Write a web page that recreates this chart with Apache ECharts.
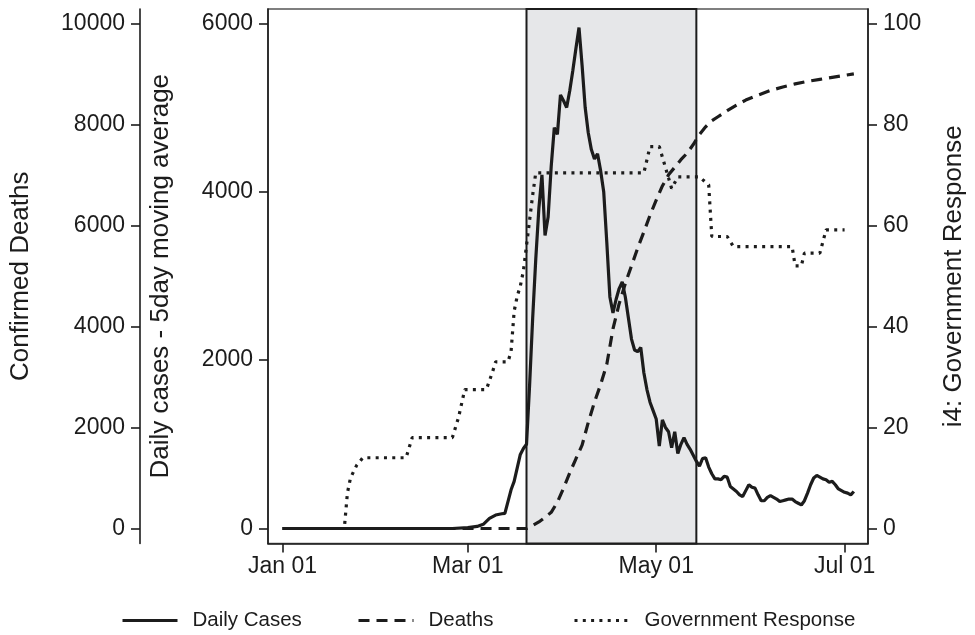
<!DOCTYPE html>
<html>
<head>
<meta charset="utf-8">
<title>Daily cases, deaths and government response</title>
<script src="https://cdn.jsdelivr.net/npm/echarts@6/dist/echarts.min.js"></script>
<style>
  html, body { margin: 0; padding: 0; background: #fff; }
  #chart { width: 975px; height: 635px; }
</style>
</head>
<body>
<div id="chart"></div>
<script>
// dates are 2020, written as MM-DD
const caseDates = ['01-01', '02-25', '03-01', '03-04', '03-06', '03-08', '03-10', '03-12', '03-13', '03-15', '03-16', '03-18', '03-19',
  '03-20', '03-21', '03-22', '03-23', '03-24', '03-25', '03-26', '03-27', '03-28', '03-29', '03-30', '03-31',
  '04-01', '04-02', '04-03', '04-04', '04-05', '04-06', '04-07', '04-08', '04-09', '04-10', '04-11', '04-12', '04-13', '04-14', '04-15',
  '04-16', '04-17', '04-18', '04-19', '04-20', '04-21', '04-22', '04-23', '04-24', '04-25', '04-26', '04-27', '04-28', '04-29', '04-30',
  '05-01', '05-02', '05-03', '05-04', '05-05', '05-06', '05-07', '05-08', '05-09', '05-10', '05-11', '05-12', '05-13', '05-14', '05-15',
  '05-16', '05-17', '05-18', '05-19', '05-20', '05-21', '05-22', '05-23', '05-24', '05-25', '05-26', '05-27', '05-28', '05-29', '05-30', '05-31',
  '06-01', '06-02', '06-03', '06-04', '06-05', '06-06', '06-07', '06-08', '06-09', '06-10', '06-11', '06-12', '06-13', '06-14', '06-15',
  '06-16', '06-17', '06-18', '06-19', '06-20', '06-21', '06-22', '06-23', '06-24', '06-25', '06-26', '06-27', '06-28', '06-29', '06-30',
  '07-01', '07-02', '07-03', '07-04'];
const caseValues = [0, 0, 10, 25, 50, 120, 160, 175, 180, 460, 560, 880, 950,
  1000, 1700, 2500, 3200, 3800, 4200, 3480, 3700, 4300, 4760, 4680, 5150,
  5080, 5000, 5200, 5440, 5700, 5950, 5500, 5000, 4700, 4500, 4390, 4450, 4250, 4000, 3400,
  2750, 2560, 2720, 2850, 2930, 2750, 2500, 2250, 2120, 2100, 2150, 1850, 1650, 1500, 1400,
  1300, 980, 1290, 1200, 1150, 960, 1150, 890, 1000, 1080, 1000, 940, 870, 800, 740,
  830, 840, 730, 650, 590, 590, 580, 620, 610, 500, 470, 440, 400, 380, 450, 520,
  490, 480, 400, 330, 330, 370, 390, 370, 350, 320, 330, 340, 350, 350, 320,
  300, 280, 330, 420, 520, 600, 630, 610, 590, 580, 550, 560, 520, 470, 450,
  430, 420, 400, 440];

const deathDates = ['01-01', '03-20', '03-22', '03-24', '03-26', '03-28', '03-30', '04-01', '04-03', '04-05', '04-07', '04-09',
  '04-11', '04-13', '04-15', '04-17', '04-19', '04-21', '04-23', '04-25', '04-27', '04-29', '05-01', '05-03', '05-05',
  '05-07', '05-09', '05-11', '05-13', '05-15', '05-17', '05-19', '05-21', '05-24', '05-27', '05-30', '06-03', '06-07',
  '06-11', '06-15', '06-19', '06-23', '06-27', '07-01', '07-04'];
const deathValues = [0, 0, 60, 130, 220, 320, 520, 800, 1100, 1380, 1650, 2100,
  2500, 2850, 3250, 3950, 4450, 4850, 5200, 5550, 5870, 6200, 6500, 6780, 7000,
  7150, 7300, 7430, 7600, 7800, 7950, 8070, 8150, 8270, 8380, 8480, 8580, 8670,
  8740, 8800, 8850, 8890, 8930, 8970, 9000];

const govDates = ['01-01', '01-21', '01-22', '01-23', '01-25', '01-27', '02-10', '02-12', '02-25', '02-27', '02-29',
  '03-07', '03-09', '03-10', '03-14', '03-15', '03-16', '03-17', '03-18', '03-19', '03-20', '03-21', '03-22', '03-23',
  '04-27', '04-29', '05-02', '05-06', '05-08', '05-15', '05-18', '05-19', '05-24', '05-26', '06-14', '06-15', '06-17',
  '06-18', '06-23', '06-25', '07-01'];
const govValues = [0, 0, 7, 10, 12.5, 14, 14, 18, 18, 22, 27.5,
  27.5, 31, 33, 33, 35, 43, 46, 48, 51, 56, 61, 66, 70.4,
  70.4, 75.6, 75.6, 67.3, 69.6, 69.6, 68, 57.8, 57.8, 55.8, 55.8, 52, 52,
  54.5, 54.5, 59.1, 59.1];

// shaded period and x ticks
const shadeDates = ['03-20', '05-14'];
const xTickDates = ['01-01', '03-01', '05-01', '07-01'];
const xTickLabels = ['Jan 01', 'Mar 01', 'May 01', 'Jul 01'];
const caseTicks = [0, 2000, 4000, 6000];
const deathTicks = [0, 2000, 4000, 6000, 8000, 10000];
const govTicks = [0, 20, 40, 60, 80, 100];

const toTime = (md) => {
  const p = md.split('-');
  return new Date(2020, +p[0] - 1, +p[1]).getTime();
};
const pairs = (dates, values) => dates.map((d, i) => [toTime(d), values[i]]);

const FONT = "'Liberation Sans', Arial, Helvetica, sans-serif";
const INK = '#1c1c1c';

const xTickTimes = xTickDates.map(toTime);

function yAxisBase(ticks, min, max) {
  return {
    type: 'value',
    min: min,
    max: max,
    splitLine: { show: false },
    axisLine: { show: true, onZero: false, lineStyle: { color: INK, width: 1.6 } },
    axisTick: { show: true, length: 9, customValues: ticks, lineStyle: { color: INK, width: 1.6 } },
    axisLabel: {
      customValues: ticks, color: INK, fontSize: 23, fontFamily: FONT, margin: 15,
      formatter: (v) => String(v)
    },
    nameLocation: 'middle',
    nameTextStyle: { color: INK, fontSize: 26, fontFamily: FONT }
  };
}

const chart = echarts.init(document.getElementById('chart'));

const option = {
  animation: false,
  backgroundColor: '#fff',
  textStyle: { fontFamily: FONT },
  grid: {
    left: 268, right: 102, top: 9, bottom: 91.5,
    show: true, borderColor: '#555', borderWidth: 1.5, backgroundColor: 'transparent'
  },
  legend: [
    { data: ['Daily Cases'], left: 121 },
    { data: ['Deaths'], left: 357 },
    { data: ['Government Response'], left: 573 }
  ].map(l => Object.assign(l, {
    top: 610, padding: 0,
    itemWidth: 55, itemHeight: 20,
    lineStyle: { width: 3 },
    itemStyle: { color: 'transparent', borderColor: 'transparent', borderWidth: 0 },
    textStyle: { color: INK, fontSize: 20.5, fontFamily: FONT, padding: [0, 0, 0, 10] }
  })),
  xAxis: {
    type: 'value',
    min: new Date(2019, 11, 27, 7).getTime(),
    max: new Date(2020, 6, 8, 14).getTime(),
    splitLine: { show: false },
    axisLine: { onZero: false, lineStyle: { color: INK, width: 1.6 } },
    axisTick: { show: true, length: 9, customValues: xTickTimes, lineStyle: { color: INK, width: 1.6 } },
    axisLabel: {
      customValues: xTickTimes,
      color: INK, fontSize: 23, fontFamily: FONT, margin: 12,
      formatter: (v) => {
        const i = xTickTimes.indexOf(v);
        return i >= 0 ? xTickLabels[i] : '';
      }
    }
  },
  yAxis: [
    Object.assign(yAxisBase(caseTicks, -178, 6170), {
      position: 'left', offset: 0,
      name: 'Daily cases - 5day moving average', nameGap: 94
    }),
    Object.assign(yAxisBase(deathTicks, -297, 10283), {
      position: 'left', offset: 128,
      name: 'Confirmed Deaths', nameGap: 106
    }),
    Object.assign(yAxisBase(govTicks, -2.97, 102.83), {
      position: 'right', offset: 0,
      name: 'i4: Government Response', nameGap: 73, nameRotate: 90
    })
  ],
  series: [
    {
      name: 'Daily Cases',
      type: 'line',
      yAxisIndex: 0,
      data: pairs(caseDates, caseValues),
      symbol: 'none',
      z: 4,
      lineStyle: { color: INK, width: 3.2, type: 'solid' },
      itemStyle: { color: INK },
      markArea: {
        silent: true,
        itemStyle: { color: '#e6e7e9', borderColor: INK, borderWidth: 2 },
        data: [[{ xAxis: toTime(shadeDates[0]) }, { xAxis: toTime(shadeDates[1]) }]]
      }
    },
    {
      name: 'Deaths',
      type: 'line',
      yAxisIndex: 1,
      data: pairs(deathDates, deathValues),
      symbol: 'none',
      z: 3,
      lineStyle: { color: INK, width: 3.2, type: [11, 7] },
      itemStyle: { color: INK }
    },
    {
      name: 'Government Response',
      type: 'line',
      yAxisIndex: 2,
      data: pairs(govDates, govValues),
      symbol: 'none',
      z: 3,
      lineStyle: { color: INK, width: 3.2, type: [3, 5.3] },
      itemStyle: { color: INK }
    }
  ]
};

chart.setOption(option);
</script>
</body>
</html>
